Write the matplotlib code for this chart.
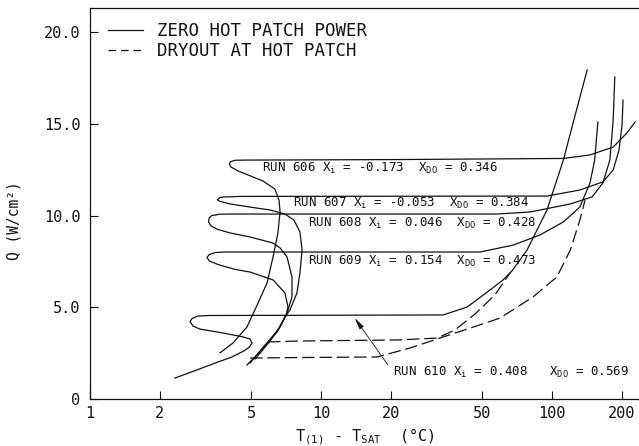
import matplotlib
matplotlib.use("Agg")
import matplotlib.pyplot as plt
from matplotlib.lines import Line2D
from matplotlib.ticker import FixedLocator, FixedFormatter, NullLocator

plt.rcParams["font.family"] = ["DejaVu Sans Mono", "DejaVu Sans"]
plt.rcParams["mathtext.fontset"] = "custom"
plt.rcParams["mathtext.rm"] = "DejaVu Sans Mono"
plt.rcParams["mathtext.it"] = "DejaVu Sans Mono"
plt.rcParams["lines.scale_dashes"] = False

# Boiling curves, wall superheat T(1)-Tsat [C] vs heat flux Q [W/cm2]
run606_t = [3.65, 4.16, 4.78, 5.34, 5.84, 6.20, 6.51, 6.65, 6.58, 6.32, 5.61, 4.83, 4.37, 4.08,
            4.01, 4.06, 4.24, 4.69, 21.9, 112, 146, 184, 211, 229]
run606_q = [2.51, 3.05, 3.92, 5.23, 6.32, 7.74, 9.05, 10.19, 10.84, 11.44, 11.88, 12.21, 12.43, 12.64,
            12.81, 12.93, 13.01, 13.02, 13.05, 13.11, 13.30, 13.73, 14.50, 15.10]

run607_t = [4.93, 5.18, 5.73, 6.45, 6.98, 7.34, 7.87, 8.11, 8.28, 8.11, 7.64, 6.98, 6.02, 4.93,
            4.04, 3.62, 3.56, 3.65, 3.80, 4.46, 95.1, 132, 166, 184, 195, 201, 203]
run607_q = [1.96, 2.29, 2.94, 3.65, 4.47, 4.85, 5.78, 6.87, 8.12, 9.10, 9.75, 10.08, 10.30, 10.46,
            10.63, 10.79, 10.86, 10.98, 11.01, 11.04, 11.06, 11.39, 11.83, 12.48, 13.57, 14.93, 16.29]

run608_t = [4.78, 5.28, 5.90, 6.65, 7.13, 7.49, 7.49, 7.13, 6.65, 6.20, 4.93, 4.04, 3.58, 3.34,
            3.26, 3.28, 3.37, 3.65, 3.96, 57.8, 80.3, 120, 149, 166, 178, 184, 187]
run608_q = [1.85, 2.40, 3.11, 3.92, 4.69, 5.56, 6.65, 7.74, 8.23, 8.50, 8.83, 9.05, 9.24, 9.43,
            9.65, 9.86, 10.00, 10.07, 10.08, 10.08, 10.19, 10.63, 11.01, 11.77, 13.02, 15.20, 17.55]

run609_t = [5.18, 5.55, 6.02, 6.51, 7.05, 7.20, 6.98, 6.20, 4.93, 4.25, 3.58, 3.29, 3.21, 3.28,
            3.48, 3.84, 48.8, 68.0, 88.7, 112, 132, 146, 153, 158]
run609_q = [2.18, 2.62, 3.16, 3.76, 4.52, 5.01, 5.78, 6.49, 6.92, 7.06, 7.33, 7.52, 7.71, 7.87,
            7.98, 8.01, 8.01, 8.39, 8.94, 9.65, 10.46, 11.77, 13.02, 15.10]

run610_t = [2.33, 2.90, 3.48, 4.12, 4.64, 4.88, 5.03, 4.93, 4.60, 3.76, 2.99, 2.79, 2.71, 2.77,
            2.93, 3.30, 33.8, 42.9, 53.9, 61.4, 67.1, 78.0, 95.1, 112, 126, 142]
run610_q = [1.14, 1.58, 1.96, 2.29, 2.62, 2.81, 3.05, 3.27, 3.38, 3.60, 3.81, 3.98, 4.22, 4.39,
            4.52, 4.55, 4.58, 5.01, 5.94, 6.49, 6.98, 8.12, 10.30, 13.02, 15.48, 17.93]

# Dryout at hot patch
dry_a_t = [5.90, 8.11, 13.4, 21.9, 31.8, 38.0, 46.4, 56.6, 66.3]
dry_a_q = [3.11, 3.16, 3.19, 3.22, 3.32, 3.76, 4.63, 5.67, 6.92]

dry_b_t = [4.93, 8.11, 17.5, 24.3, 32.7, 42.9, 59.6, 82.7, 105, 120, 132, 139]
dry_b_q = [2.23, 2.26, 2.29, 2.78, 3.32, 3.81, 4.41, 5.56, 6.65, 8.12, 9.75, 10.84]

run_labels = [
    r"RUN 606 X$_{\mathrm{i}}$ = -0.173  X$_{\mathrm{DO}}$ = 0.346",
    r"RUN 607 X$_{\mathrm{i}}$ = -0.053  X$_{\mathrm{DO}}$ = 0.384",
    r"RUN 608 X$_{\mathrm{i}}$ = 0.046  X$_{\mathrm{DO}}$ = 0.428",
    r"RUN 609 X$_{\mathrm{i}}$ = 0.154  X$_{\mathrm{DO}}$ = 0.473",
    r"RUN 610 X$_{\mathrm{i}}$ = 0.408   X$_{\mathrm{DO}}$ = 0.569",
]
label_t = [5.55, 7.56, 8.80, 8.80, 20.5]
label_q = [12.59, 10.63, 9.54, 7.47, 1.47]

x_ticks = [1, 2, 5, 10, 20, 50, 100, 200]
x_tick_labels = ["1", "2", "5", "10", "20", "50", "100", "200"]
y_ticks = [0, 5, 10, 15, 20]
y_tick_labels = ["0", "5.0", "10.0", "15.0", "20.0"]

ink = "#111111"
lw = 0.9
dash = (9, 3.5)

fig = plt.figure(figsize=(6.39, 4.46), dpi=100)
ax = fig.add_axes([0.1408, 0.1054, 0.8592, 0.8767])
ax.set_xscale("log")
ax.set_xlim(1, 238)
ax.set_ylim(0, 21.31)

for t, q in [(run606_t, run606_q), (run607_t, run607_q), (run608_t, run608_q),
             (run609_t, run609_q), (run610_t, run610_q)]:
    ax.plot(t, q, color=ink, lw=lw, solid_joinstyle="round")

for t, q in [(dry_a_t, dry_a_q), (dry_b_t, dry_b_q)]:
    ax.plot(t, q, color=ink, lw=lw, linestyle=(0, dash))

for s, t, q in zip(run_labels, label_t, label_q):
    ax.text(t, q, s, fontsize=9, ha="left", va="center", color=ink)

ax.annotate("", xy=(14.0, 4.41), xytext=(19.5, 1.85),
            arrowprops=dict(arrowstyle="-|>,head_length=0.7,head_width=0.15",
                            lw=0.6, color=ink, shrinkA=0, shrinkB=0))

ax.spines["right"].set_visible(False)
for sp in ("left", "bottom", "top"):
    ax.spines[sp].set_linewidth(0.9)
    ax.spines[sp].set_color(ink)

ax.xaxis.set_major_locator(FixedLocator(x_ticks))
ax.xaxis.set_major_formatter(FixedFormatter(x_tick_labels))
ax.xaxis.set_minor_locator(NullLocator())
ax.yaxis.set_major_locator(FixedLocator(y_ticks))
ax.yaxis.set_major_formatter(FixedFormatter(y_tick_labels))
ax.tick_params(axis="both", direction="in", length=6, width=0.8, labelsize=11, colors=ink)
ax.tick_params(axis="x", pad=5)
ax.tick_params(axis="y", pad=7)

ax.set_xlabel(r"T$_{\mathrm{(1)}}$ - T$_{\mathrm{SAT}}$  (°C)", fontsize=11, labelpad=4, color=ink)
ax.set_ylabel("Q (W/cm²)", fontsize=10.5, color=ink)
ax.yaxis.set_label_coords(-0.124, 0.455)

handles = [Line2D([], [], color=ink, lw=lw),
           Line2D([], [], color=ink, lw=lw, linestyle=(0, (5.5, 3.5)))]
ax.legend(handles, ["ZERO HOT PATCH POWER", "DRYOUT AT HOT PATCH"],
          loc="upper left", bbox_to_anchor=(0.033, 0.965), frameon=False,
          prop={"size": 12.5}, handlelength=2.0, handletextpad=0.8,
          labelspacing=0.15, borderpad=0, borderaxespad=0, labelcolor=ink)

fig.savefig("out.png", dpi=100, facecolor="white")
